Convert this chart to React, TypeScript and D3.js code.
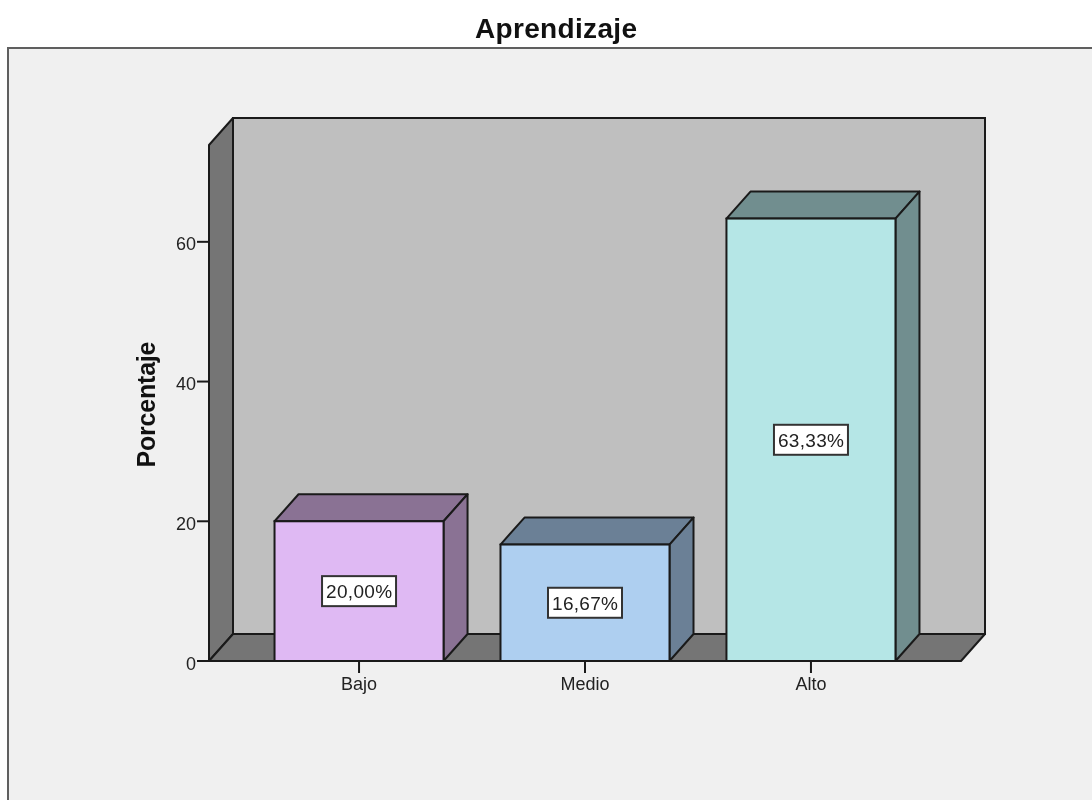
import React from "react";
import * as d3 from "d3";

const categories = ["Bajo", "Medio", "Alto"];
const percentages = [20.0, 16.67, 63.33];
const valueLabels = ["20,00%", "16,67%", "63,33%"];
const frontColors = ["#dfb9f3", "#aecff0", "#b5e6e6"];
const sideColors = ["#8a7294", "#6b8096", "#718e8f"];
const yTicks = [0, 20, 40, 60];
const chartTitle = "Aprendizaje";
const yTitle = "Porcentaje";
const yMax = 73.86;

const W = 1092, H = 800;
const dx = 24, dy = -27;
const left = 209, right = 961, bottom = 661, top = 144;
const FONT = "'Liberation Sans', Arial, sans-serif";
const STROKE = "#1a1a1a";
const SW = 2;

export default function App() {
  const y = d3.scaleLinear().domain([0, yMax]).range([bottom, top + 1]);
  const x = d3.scaleBand<string>().domain(categories).range([left, right]).paddingInner(0.252).paddingOuter(0.29);
  const poly = (pts: number[][]) => pts.map((p) => p.join(",")).join(" ");
  const bw = x.bandwidth();
  return (
    <svg width={W} height={H} viewBox={`0 0 ${W} ${H}`} style={{ position: "fixed", left: 0, top: 0, display: "block" }}>
      <rect x={0} y={0} width={W} height={H} fill="#ffffff" />
      <g style={{ filter: "blur(0.45px)" }}>
        <rect x={8} y={48} width={W + 20} height={H} fill="#f0f0f0" stroke="#5f5f5f" strokeWidth={2} />
        <text x={556} y={38} textAnchor="middle" fontFamily={FONT} fontWeight={700} fontSize={28} fill="#111" textLength={162} lengthAdjust="spacing">{chartTitle}</text>

        {/* back wall, side wall, floor */}
        <rect x={left + dx} y={top + dy + 1} width={right - left} height={bottom - top - 1} fill="#bfbfbf" stroke={STROKE} strokeWidth={SW} />
        <polygon points={poly([[left, bottom], [left, top + 1], [left + dx, top + dy + 1], [left + dx, bottom + dy]])} fill="#757575" stroke={STROKE} strokeWidth={SW} strokeLinejoin="round" />
        <polygon points={poly([[left, bottom], [right, bottom], [right + dx, bottom + dy], [left + dx, bottom + dy]])} fill="#757575" stroke={STROKE} strokeWidth={SW} strokeLinejoin="round" />

        {/* y axis */}
        {yTicks.map((t) => (
          <g key={t}>
            <line x1={left - 12} x2={left} y1={y(t)} y2={y(t)} stroke={STROKE} strokeWidth={SW} />
            <text x={left - 13} y={y(t) + 8.5} textAnchor="end" fontFamily={FONT} fontSize={18} fill="#222">{t}</text>
          </g>
        ))}
        <text transform={`translate(155,404.5) rotate(-90)`} textAnchor="middle" fontFamily={FONT} fontWeight={700} fontSize={25} fill="#111" textLength={126} lengthAdjust="spacing">{yTitle}</text>

        {/* bars */}
        {categories.map((c, i) => {
          const x0 = x(c)!;
          const x1 = x0 + bw;
          const yv = y(percentages[i]);
          const cx = x0 + bw / 2;
          const cy = (yv + bottom) / 2;
          return (
            <g key={c}>
              <polygon points={poly([[x0, yv], [x1, yv], [x1 + dx, yv + dy], [x0 + dx, yv + dy]])} fill={sideColors[i]} stroke={STROKE} strokeWidth={SW} strokeLinejoin="round" />
              <polygon points={poly([[x1, yv], [x1 + dx, yv + dy], [x1 + dx, bottom + dy], [x1, bottom]])} fill={sideColors[i]} stroke={STROKE} strokeWidth={SW} strokeLinejoin="round" />
              <rect x={x0} y={yv} width={bw} height={bottom - yv} fill={frontColors[i]} stroke={STROKE} strokeWidth={SW} />
              <rect x={cx - 37} y={cy - 15} width={74} height={30} fill="#ffffff" stroke="#333" strokeWidth={SW} />
              <text x={cx} y={cy + 7} textAnchor="middle" fontFamily={FONT} fontSize={19} fill="#222" textLength={66} lengthAdjust="spacing">{valueLabels[i]}</text>
              <line x1={cx} x2={cx} y1={bottom} y2={bottom + 12} stroke={STROKE} strokeWidth={SW} />
              <text x={cx} y={bottom + 29} textAnchor="middle" fontFamily={FONT} fontSize={18} fill="#222">{c}</text>
            </g>
          );
        })}
        <line x1={left - 12} x2={right} y1={bottom} y2={bottom} stroke={STROKE} strokeWidth={SW} />
      </g>
    </svg>
  );
}
